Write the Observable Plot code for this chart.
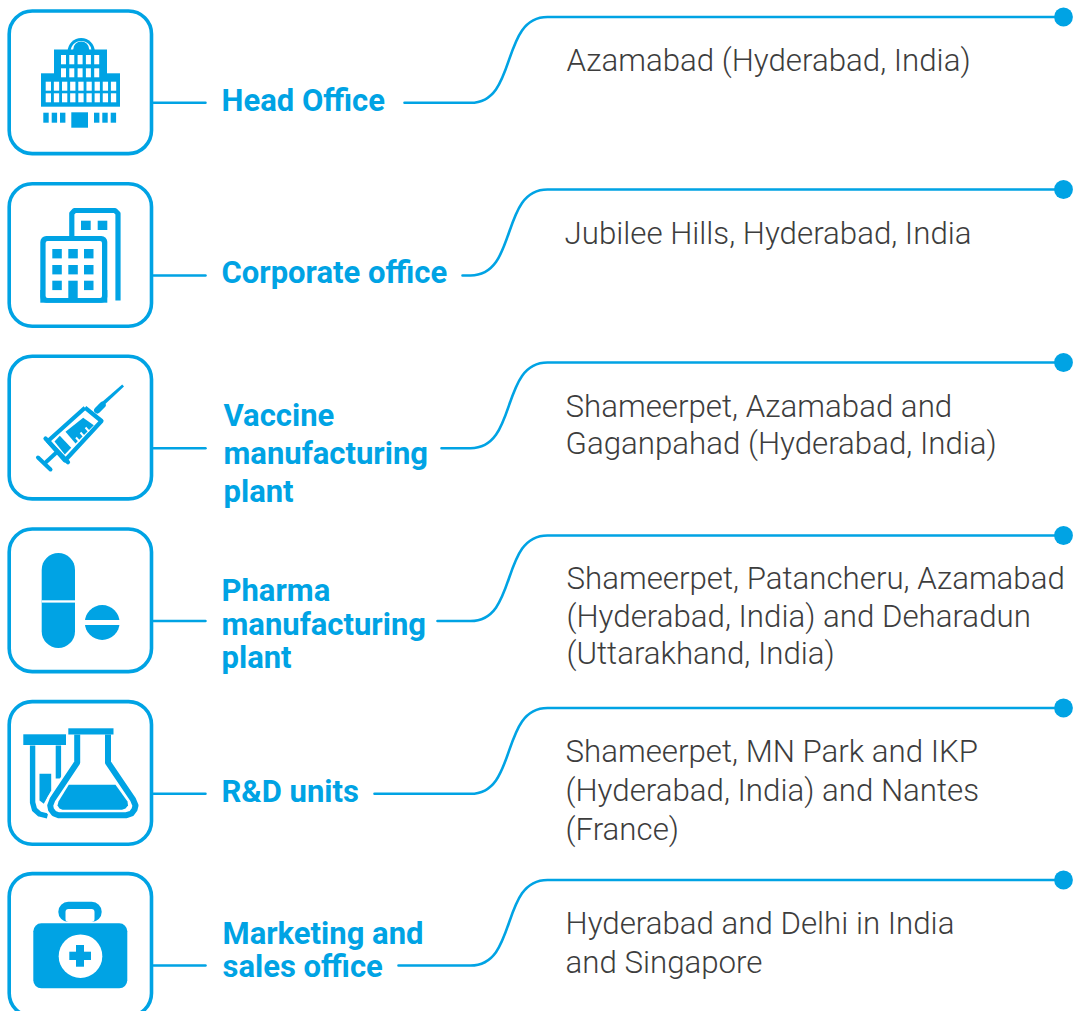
<!DOCTYPE html>
<html><head><meta charset="utf-8">
<style>html,body{margin:0;padding:0;background:#fff}svg{display:block}</style>
<script src="https://cdn.jsdelivr.net/npm/d3@7"></script>
<script src="https://cdn.jsdelivr.net/npm/@observablehq/plot@0.6"></script>
</head><body><div id="chart"></div>
<script>
// Content
const facilities = ["Head Office","Corporate office","Vaccine manufacturing plant","Pharma manufacturing plant","R&D units","Marketing and sales office"];
const facilityLines = [["Head Office"],["Corporate office"],["Vaccine","manufacturing","plant"],["Pharma","manufacturing","plant"],["R&D units"],["Marketing and","sales office"]];
const locationLines = [
  ["Azamabad (Hyderabad, India)"],
  ["Jubilee Hills, Hyderabad, India"],
  ["Shameerpet, Azamabad and","Gaganpahad (Hyderabad, India)"],
  ["Shameerpet, Patancheru, Azamabad","(Hyderabad, India) and Deharadun","(Uttarakhand, India)"],
  ["Shameerpet, MN Park and IKP","(Hyderabad, India) and Nantes","(France)"],
  ["Hyderabad and Delhi in India","and Singapore"]
];
// Layout of the rows
const cardTop = [11, 183.7, 356.3, 529, 701.6, 873.6];
const connectorY = [102.3, 275, 447.7, 620.5, 793.3, 965];
const topLineY = [16.5, 189, 362, 535, 707.5, 879.5];
const connectorResume = [404, 462, 441, 437, 374, 398];
const labelX = [221, 221, 223, 221, 221, 222];
const labelBase = [[110],[282],[425,463,501],[600,634,667],[801],[943,976]];
const locX = [566, 564, 565, 566, 565, 565];
const locBase = [[70],[243],[416,453],[588,626,663],[761,800,839],[933,972]];

const blue = "#00a3e4", ink = "#3d3d3d";

const labels = facilityLines.flatMap((ls,i)=>ls.map((t,j)=>({t,x:labelX[i],y:labelBase[i][j]})));
const locs = locationLines.flatMap((ls,i)=>ls.map((t,j)=>({t,x:locX[i],y:locBase[i][j]})));
const cards = facilities.map((f,i)=>({f,x1:9.2,x2:151.5,y1:cardTop[i],y2:cardTop[i]+142.6}));
const stubs = facilities.flatMap((f,i)=>[{f,x:153,y:connectorY[i]},{f,x:205,y:connectorY[i]}]);
const links = facilities.flatMap((f,i)=>[
  {f,x:connectorResume[i],y:connectorY[i]},{f,x:470,y:connectorY[i]},{f,x:547,y:topLineY[i]},{f,x:1063,y:topLineY[i]}]);
const ends = facilities.map((f,i)=>({f,x:1063,y:topLineY[i]}));

// S-shaped link: steep in the middle, flat at both ends
function sLink(context){
  let x0,y0,started=false;
  return {
    areaStart(){},areaEnd(){},
    lineStart(){started=false;},
    lineEnd(){},
    point(x,y){
      x=+x;y=+y;
      if(!started){context.moveTo(x,y);started=true;}
      else if(y===y0){context.lineTo(x,y);}
      else{const d=(x-x0)*0.62;context.bezierCurveTo(x0+d,y0,x-d,y,x,y);}
      x0=x;y0=y;
    }
  };
}

// Icon helpers
const R = (x1,x2,y1,y2,fill=blue,rx=0)=>Plot.rect([0],{x1:()=>x1,x2:()=>x2,y1:()=>y1,y2:()=>y2,fill,rx});
const P = (pts,fill=blue)=>Plot.line(pts,{x:d=>d[0],y:d=>d[1],fill,stroke:"none",curve:"linear-closed"});
const S = (pts,w,stroke=blue,cap="butt",fill="none")=>Plot.line(pts,{x:d=>d[0],y:d=>d[1],stroke,strokeWidth:w,fill,curve:"linear",strokeLinecap:cap,strokeLinejoin:"round"});
const C = (x,y,r,fill=blue)=>Plot.dot([0],{x:()=>x,y:()=>y,r,fill,stroke:"none"});
const W = "#fff";

function iconHQ(){
  const m=[];
  m.push(C(80.7,51,13.6));
  m.push(C(80.7,51,10.6,W));
  m.push(C(80.7,49,8));
  m.push(R(54,107,49.5,74));
  m.push(R(41,120,73.3,106.7));
  for(const y of [[55,64.3],[68.3,77.3]]) for(let c=0;c<5;c++) m.push(R(61+c*8.3,66+c*8.3,y[0],y[1],W));
  for(const y of [[81.7,90.7],[93.3,102.3]]) for(let c=0;c<9;c++) m.push(R(45.7+c*8.15,51+c*8.15,y[0],y[1],W));
  for(const x of [43.3,51.7,60,94,102.3,110.7]) m.push(R(x,x+5.4,112.7,122.7));
  m.push(R(71.3,88,112.3,127.7));
  return m;
}
function iconCorp(){
  const m=[];
  m.push(S([[71.3,238],[71.3,213],[74,210],[114.5,210],[117.5,213],[117.5,300]],5.2));
  m.push(R(81,90.7,220.7,230)); m.push(R(97.7,107.3,220.7,230));
  m.push(R(40.3,107.3,236,302.7,blue,6));
  m.push(R(40.3,107.3,290,302.7));
  m.push(R(45.6,102,241,298,W,2));
  for(const x of [52.3,68.3,84]) for(const y of [249,265,280.7]) if(!(x===68.3&&y===280.7)) m.push(R(x,x+9.5,y,y+9.4));
  m.push(R(68.3,77.7,280.7,298));
  return m;
}
function iconSyringe(){
  const m=[];
  m.push(P([[123.5,386],[121.7,384],[97.5,405],[100,408]]));
  m.push(S([[96.8,409.7],[102,404.5]],6.5,blue,"round"));
  m.push(S([[84.5,407.2],[101,420.5],[64.5,460],[47.5,440.5],[84.5,407.2]],4.2));
  m.push(S([[45,438],[67.5,461.8]],4.2,blue,"round"));
  m.push(S([[57,451],[44,463]],4));
  m.push(S([[37.5,457],[50,469]],4,blue,"round"));
  m.push(P([[65,431.3],[82.7,417.3],[93.3,424.7],[75,443]]));
  m.push(P([[54,441],[59.3,435.3],[70.7,447.3],[64.3,454]]));
  for(const p of [[[88.5,431],[85,427]],[[83.5,436],[80,432]],[[79,441],[75.5,437]]]) m.push(S(p,1.9,W));
  return m;
}
function iconPills(){
  return [
    R(41.7,75,553,648,blue,16.7),
    R(41.7,75,600.3,602.6,W),
    C(101.7,622,17.4),
    R(84,120,620,625,W)
  ];
}
const flaskPath=[[76.7,734],[76.7,762],[52,799],[49.7,805],[50.5,809],[53.5,813],[58,814.7],[126,814.7],[131,813],[134,809],[135,805],[132.5,799],[107.5,762],[107.5,734]];
function iconLab(){
  const m=[];
  m.push(R(23.3,66,734.3,745));
  m.push(S([[32.1,745],[32.1,802],[34,809],[39,813.5],[47,815.5]],5.4));
  m.push(S([[57.9,745],[57.9,778]],5.4));
  m.push(P([[39,773.3],[50.7,773.3],[50.7,790],[43.3,803.3],[39,800]]));
  m.push(S(flaskPath,11,W));
  m.push(S(flaskPath,6));
  m.push(R(68.3,113.5,728.3,734.5));
  m.push(P([[68.3,784.3],[115,784.3],[127,801],[127.5,805],[125,808],[121.5,809.3],[62,809.3],[59,808],[57,805],[58,801]]));
  return m;
}
function iconKit(){
  return [
    R(58.3,101.7,901.7,922,blue,10),
    R(65.5,94.5,909,922,W,3),
    R(33.3,127.3,923.3,988.3,blue,8),
    C(80,955.7,21.8,W),
    R(69.3,91,951.7,960),
    R(76,84,945,966.7)
  ];
}

const plot = Plot.plot({
  width:1078,height:1011,margin:0,
  x:{domain:[0,1078],range:[0,1078],axis:null},
  y:{domain:[0,1011],range:[0,1011],axis:null},
  style:{fontFamily:"Roboto",background:"#fff"},
  marks:[
    Plot.rect(cards,{x1:"x1",x2:"x2",y1:"y1",y2:"y2",fill:"none",stroke:blue,strokeWidth:3.6,rx:23}),
    Plot.line(stubs,{x:"x",y:"y",z:"f",stroke:blue,strokeWidth:2.5}),
    Plot.line(links,{x:"x",y:"y",z:"f",stroke:blue,strokeWidth:2.6,curve:sLink}),
    Plot.dot(ends,{x:"x",y:"y",r:9.4,fill:blue,stroke:"none"}),
    ...iconHQ(),...iconCorp(),...iconSyringe(),...iconPills(),...iconLab(),...iconKit(),
    Plot.text(labels,{x:"x",y:"y",text:"t",textAnchor:"start",lineAnchor:"bottom",fontSize:31,fontWeight:700,fill:blue}),
    Plot.text(locs,{x:"x",y:"y",text:"t",textAnchor:"start",lineAnchor:"bottom",fontSize:31.25,fontWeight:300,fill:ink})
  ]
});
document.getElementById("chart").append(plot);
</script></body></html>
